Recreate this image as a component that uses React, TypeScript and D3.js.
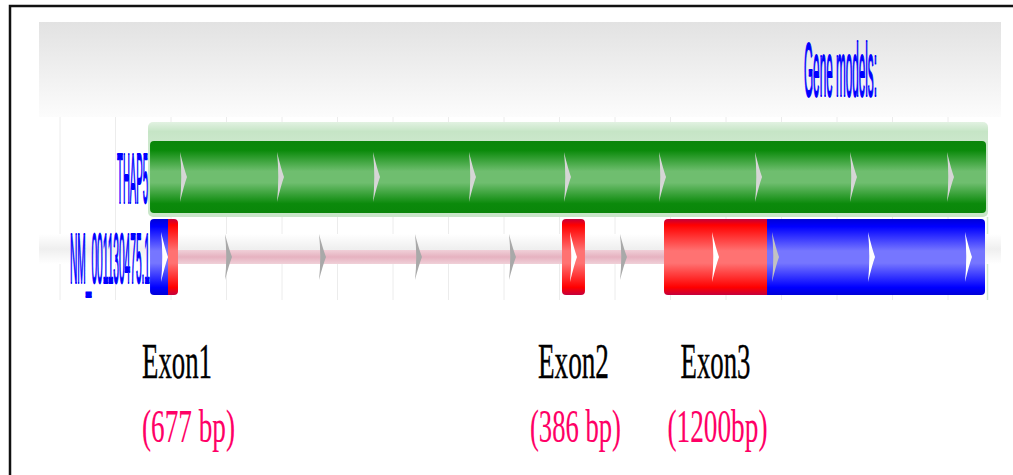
import { useEffect, useRef } from "react";
import * as d3 from "d3";

// genomic coordinates (bp) of the track
const trackDomain = [0, 16000];
const geneSpan = [1622, 16685];
const geneName = "THAP5";
const transcriptName = "NM_001130475.1";
const trackTitle = "Gene models:";

// exon pieces of the transcript: utr (blue) or cds (red)
const exonParts = [
  { exon: 1, start: 1622, end: 1946, kind: "utr" },
  { exon: 1, start: 1946, end: 2126, kind: "cds" },
  { exon: 2, start: 9045, end: 9459, kind: "cds" },
  { exon: 3, start: 10883, end: 12739, kind: "cds" },
  { exon: 3, start: 12739, end: 16667, kind: "utr" },
];

// strand arrows
const geneArrows = [2216, 3964, 5694, 7423, 9135, 10847, 12577, 14288, 16036];
const transcriptArrows = [1874, 3027, 4721, 6450, 8144, 9243, 10144, 11802, 12883, 14613, 16360];

const exonNames = ["Exon1", "Exon2", "Exon3"];
const exonSizes = ["(677 bp)", "(386 bp)", "(1200bp)"];

export default function App() {
  const ref = useRef<SVGSVGElement>(null);

  useEffect(() => {
    if (!ref.current) return;
    const svg = d3.select(ref.current);
    svg.selectAll("*").remove();

    const width = 1013;
    const height = 475;
    svg.attr("width", width).attr("height", height);

    const x = d3.scaleLinear().domain(trackDomain).range([60, 948]);

    const defs = svg.append("defs");
    const grad = (id: string, stops: [number, string][]) => {
      const g = defs
        .append("linearGradient")
        .attr("id", id)
        .attr("x1", 0).attr("y1", 0).attr("x2", 0).attr("y2", 1);
      stops.forEach(([o, c]) => g.append("stop").attr("offset", o).attr("stop-color", c));
    };
    grad("hdr", [[0, "#e2e2e2"], [1, "#fcfcfc"]]);
    grad("green", [[0, "#0a860a"], [0.13, "#0b8a0b"], [0.42, "#6fbe6f"], [0.58, "#6fbe6f"], [0.87, "#0b8a0b"], [1, "#0a860a"]]);
    grad("lgreen", [[0, "#e2f2e2"], [0.1, "#c6e5c6"], [0.2, "#cbe7cb"], [1, "#c9e6c9"]]);
    grad("blue", [[0, "#0000d8"], [0.1, "#0000ff"], [0.42, "#7676ff"], [0.58, "#7676ff"], [0.9, "#0000ff"], [1, "#0000d8"]]);
    grad("red", [[0, "#c4003c"], [0.08, "#ff0000"], [0.42, "#ff7272"], [0.58, "#ff7272"], [0.9, "#ff0000"], [1, "#c4003c"]]);
    grad("band", [[0, "#ffffff"], [0.5, "#efefef"], [1, "#ffffff"]]);
    grad("intron", [[0, "#f0d0d8"], [0.5, "#e6b2c0"], [1, "#f0d0d8"]]);

    // frame
    svg.append("rect")
      .attr("x", 10).attr("y", 6)
      .attr("width", width).attr("height", height)
      .attr("fill", "white").attr("stroke", "#111").attr("stroke-width", 2.5);

    // header
    svg.append("rect")
      .attr("x", 39).attr("y", 22).attr("width", 962).attr("height", 95)
      .attr("fill", "url(#hdr)");

    // text squeezed horizontally to a given width, like the stretched screenshot
    const fitText = (
      label: string,
      ax: number,
      y: number,
      w: number,
      anchor: "start" | "middle" | "end",
      size: number,
      family: string,
      color: string,
      strokeW: number
    ) => {
      const t = svg.append("text")
        .attr("font-family", family)
        .attr("font-size", size)
        .attr("fill", color)
        .attr("stroke", color)
        .attr("stroke-width", strokeW)
        .text(label);
      const len = (t.node() as SVGTextElement).getComputedTextLength() || w;
      const sx = w / len;
      const left = anchor === "start" ? ax : anchor === "middle" ? ax - w / 2 : ax - w;
      t.attr("transform", `translate(${left},${y}) scale(${sx},1)`)
        .attr("stroke-width", strokeW / Math.sqrt(sx));
      return t;
    };
    const sans = "Liberation Sans, Arial, sans-serif";
    const serif = "Liberation Serif, Times New Roman, serif";

    fitText(trackTitle, 804, 96, 73, "start", 76, sans, "#0000ff", 0.7);

    // vertical grid
    svg.append("g")
      .selectAll("line")
      .data(x.ticks(16))
      .join("line")
      .attr("x1", (d) => x(d)).attr("x2", (d) => x(d))
      .attr("y1", 117).attr("y2", 300)
      .attr("stroke", "#ececec").attr("stroke-width", 1);

    // gene track
    const gy0 = 141, gy1 = 213;
    svg.append("rect")
      .attr("x", x(geneSpan[0]) - 2).attr("y", 122)
      .attr("width", x(geneSpan[1]) - x(geneSpan[0]) + 4).attr("height", 95)
      .attr("rx", 5)
      .attr("fill", "url(#lgreen)");
    svg.append("line")
      .attr("x1", x(geneSpan[1]) + 1.5).attr("x2", x(geneSpan[1]) + 1.5)
      .attr("y1", 217).attr("y2", 300)
      .attr("stroke", "#d3ead3").attr("stroke-width", 1.5);
    svg.append("rect")
      .attr("x", x(geneSpan[0])).attr("y", gy0)
      .attr("width", x(geneSpan[1]) - x(geneSpan[0])).attr("height", gy1 - gy0)
      .attr("rx", 4)
      .attr("fill", "url(#green)");

    const chevron = (cx: number, cy: number, h: number) =>
      `M${cx - 3},${cy - h / 2} Q${cx + 1},${cy - h / 6} ${cx + 4},${cy} Q${cx + 1},${cy + h / 6} ${cx - 3},${cy + h / 2} Q${cx - 0.5},${cy} ${cx - 3},${cy - h / 2} Z`;

    svg.append("g")
      .selectAll("path")
      .data(geneArrows)
      .join("path")
      .attr("d", (d) => chevron(x(d), (gy0 + gy1) / 2, 50))
      .attr("fill", "#d6d6d6");

    fitText(geneName, x(geneSpan[0]) - 2, 203, 31, "end", 70, sans, "#0000ff", 0.7);

    // transcript track
    const ty0 = 219, ty1 = 295, tc = 257;
    svg.append("rect")
      .attr("x", 39).attr("y", 234).attr("width", 962).attr("height", 30)
      .attr("fill", "url(#band)");

    const cds = exonParts.filter((p) => p.kind === "cds");
    svg.append("rect")
      .attr("x", x(cds[0].end)).attr("y", tc - 7)
      .attr("width", x(cds[cds.length - 1].start) - x(cds[0].end)).attr("height", 14)
      .attr("fill", "url(#intron)");

    // each exon is a rounded block; its utr/cds pieces are clipped to it
    const exonIds = Array.from(new Set(exonParts.map((p) => p.exon)));
    exonIds.forEach((id) => {
      const parts = exonParts.filter((p) => p.exon === id);
      const s = x(parts[0].start);
      const e = x(parts[parts.length - 1].end);
      defs.append("clipPath").attr("id", `exon${id}`)
        .append("rect")
        .attr("x", s).attr("y", ty0).attr("width", e - s).attr("height", ty1 - ty0)
        .attr("rx", 4);
      svg.append("g")
        .attr("clip-path", `url(#exon${id})`)
        .selectAll("rect")
        .data(parts)
        .join("rect")
        .attr("x", (d) => x(d.start)).attr("y", ty0)
        .attr("width", (d) => x(d.end) - x(d.start) + 0.5).attr("height", ty1 - ty0)
        .attr("fill", (d) => (d.kind === "cds" ? "url(#red)" : "url(#blue)"));
    });

    const arrowFill = (d: number) => {
      const part = exonParts.find((p) => d >= p.start && d <= p.end);
      if (!part) return "#a9a9a9";
      return x(d) - x(part.start) < 10 ? "#c2c2c2" : "#ffffff";
    };
    svg.append("g")
      .selectAll("path")
      .data(transcriptArrows)
      .join("path")
      .attr("d", (d) => chevron(x(d), tc, exonParts.some((p) => d >= p.start && d <= p.end) ? 50 : 46))
      .attr("fill", arrowFill);

    fitText(transcriptName, x(geneSpan[0]), 283, 80, "end", 70, sans, "#0000ff", 0.7);

    // exon labels
    const centres = exonNames.map((_, i) => {
      const parts = cds.filter((p) => p.exon === i + 1);
      return (x(parts[0].start) + x(parts[parts.length - 1].end)) / 2;
    });
    const nameLen = [70, 71, 70];
    const sizeLen = [93, 91, 100];
    exonNames.forEach((name, i) => {
      const first = i === 0;
      const ax = first ? x(exonParts[0].start) - 8 : centres[i];
      fitText(name, ax, 378, nameLen[i], first ? "start" : "middle", 50, serif, "#000", 0.3);
      fitText(exonSizes[i], first ? ax : centres[i] + 2, 442, sizeLen[i], first ? "start" : "middle", 47, serif, "#ff0066", 0.1);
    });
  }, []);

  return (
    <div style={{ position: "absolute", left: 0, top: 0, width: 1013, height: 475, overflow: "hidden" }}>
      <svg ref={ref} style={{ display: "block" }}></svg>
    </div>
  );
}
